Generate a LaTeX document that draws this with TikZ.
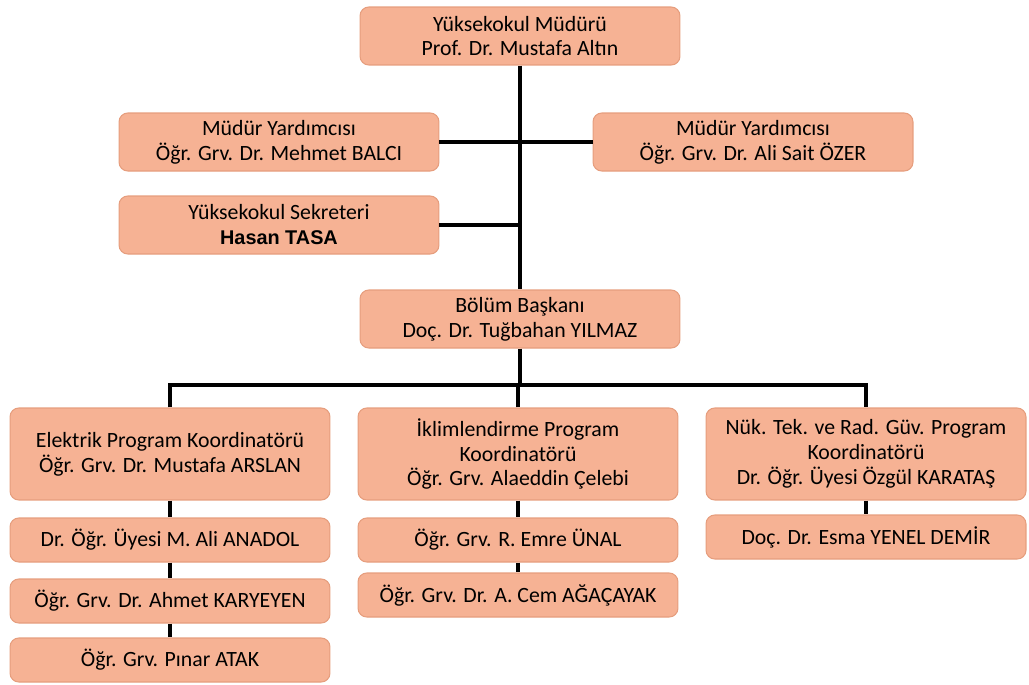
\documentclass[tikz,border=0pt]{standalone}
\usepackage{fontspec}
\setmainfont{Carlito}
\newfontfamily\boldsans{Liberation Sans}
\definecolor{boxfill}{RGB}{246,178,148}
\definecolor{boxline}{RGB}{230,158,126}
\tikzset{
  unit/.style={draw=boxline, line width=0.6pt, fill=boxfill, rounded corners=5pt,
    align=center, inner sep=2pt, font=\fontsize{12.4}{14.2}\selectfont},
  head/.style={unit, minimum width=6.4cm, minimum height=1.16cm},
  coordbox/.style={unit, minimum width=6.4cm, minimum height=1.84cm},
  member/.style={unit, minimum width=6.4cm, minimum height=0.88cm},
  link/.style={line width=2.2pt}
}
\begin{document}
\begin{tikzpicture}[x=0.02cm,y=-0.02cm]
\useasboundingbox (0,0) rectangle (1029,684);
% top of the school
\node[head] (mudur) at (520,36) {Yüksekokul Müdürü\\Prof. Dr. Mustafa Altın};
\node[head] (yrdA) at (279,142) {Müdür Yardımcısı\\Öğr. Grv. Dr. Mehmet BALCI};
\node[head] (yrdB) at (753,142) {Müdür Yardımcısı\\Öğr. Grv. Dr. Ali Sait ÖZER};
\node[head] (sekreter) at (279,225) {Yüksekokul Sekreteri\\{\boldsans\bfseries\fontsize{11.3}{13}\selectfont Hasan TASA}};
\node[head] (bolum) at (520,319) {Bölüm Başkanı\\Doç. Dr. Tuğbahan YILMAZ};
% program coordinators
\node[coordbox] (elektrik) at (170,454) {Elektrik Program Koordinatörü\\Öğr. Grv. Dr. Mustafa ARSLAN};
\node[coordbox] (iklim) at (518,454) {İklimlendirme Program\\Koordinatörü\\Öğr. Grv. Alaeddin Çelebi};
\node[coordbox] (nukleer) at (866,454) {Nük. Tek. ve Rad. Güv. Program\\Koordinatörü\\Dr. Öğr. Üyesi Özgül KARATAŞ};
% staff
\node[member] (anadol) at (170,540) {Dr. Öğr. Üyesi M. Ali ANADOL};
\node[member] (karyeyen) at (170,601) {Öğr. Grv. Dr. Ahmet KARYEYEN};
\node[member] (atak) at (170,660) {Öğr. Grv. Pınar ATAK};
\node[member] (unal) at (518,540) {Öğr. Grv. R. Emre ÜNAL};
\node[member] (agacayak) at (518,595) {Öğr. Grv. Dr. A. Cem AĞAÇAYAK};
\node[member] (yenel) at (866,537) {Doç. Dr. Esma YENEL DEMİR};
% lines
\coordinate (bus) at (520,385);
\draw[link] (mudur) -- (bolum);
\draw[link] (yrdA) -- (yrdA.east -| mudur.south);
\draw[link] (yrdB) -- (yrdB.west -| mudur.south);
\draw[link] (sekreter) -- (sekreter.east -| mudur.south);
\draw[link] (bolum) -- (bus);
\draw[link] (elektrik.north) |- (bus) -| (nukleer.north);
\draw[link] (iklim.north) -- (iklim.north |- bus);
\draw[link] (elektrik) -- (anadol) -- (karyeyen) -- (atak);
\draw[link] (iklim) -- (unal) -- (agacayak);
\draw[link] (nukleer) -- (yenel);
\end{tikzpicture}
\end{document}
